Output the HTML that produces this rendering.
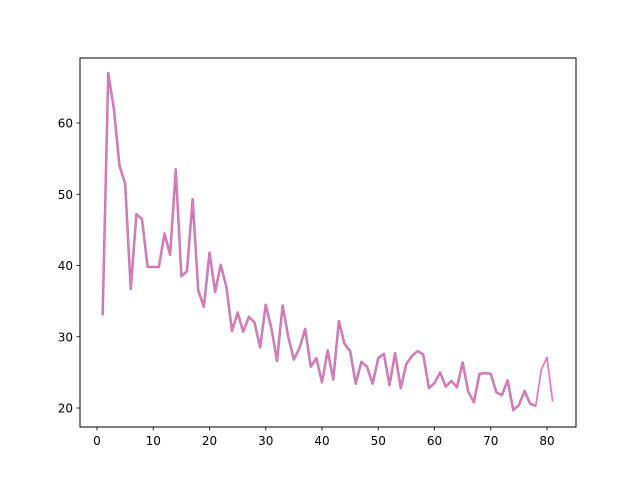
<!DOCTYPE html>
<html><head><meta charset="utf-8"><style>body{margin:0;background:#fff}svg{display:block;font-family:"DejaVu Sans","Liberation Sans",sans-serif}</style></head>
<body>
<svg id="chart" width="640" height="480"></svg>
<script>
const xs = [];
for (let i = 1; i <= 81; i++) xs.push(i);
const pinkValues = [33,67,62,54,51.5,36.7,47.2,46.5,39.8,39.8,39.8,44.5,41.5,53.5,38.5,39.2,49.3,36.5,34.2,41.8,36.3,40.1,37,30.8,33.4,30.7,32.8,32,28.5,34.5,31.2,26.6,34.4,30,26.8,28.4,31.1,25.8,27,23.6,28.1,24,32.2,29,28,23.4,26.5,25.8,23.4,27,27.6,23.2,27.7,22.8,26.2,27.3,28,27.5,22.8,23.5,25,23,23.8,22.9,26.4,22.3,20.8,24.8,24.9,24.8,22.2,21.8,23.9,19.7,20.4,22.4,20.6,20.3,25.4,27.1,20.9];
const grayCount = 78;
const xTicks = [0,10,20,30,40,50,60,70,80];
const yTicks = [20,30,40,50,60];
const NS = "http://www.w3.org/2000/svg";
const svg = document.getElementById('chart');
const L=80,R=576,T=58,B=427;
const sx = v => 97 + (v-0)*(547-97)/80;
const sy = v => 408 - (v-20)*(408-123)/40;
function mk(tag, attrs){const e=document.createElementNS(NS,tag);for(const k in attrs)e.setAttribute(k,attrs[k]);svg.appendChild(e);return e;}
function line(vals, n, color, w){
  let d='';
  for(let i=0;i<n;i++){d+=(i?'L':'M')+sx(xs[i]).toFixed(2)+','+sy(vals[i]).toFixed(2);}
  return mk('path',{d:d,fill:'none',stroke:color,'stroke-width':w,'stroke-linejoin':'round'});
}
const g = line(pinkValues, grayCount, '#9a6a8c', 2.4);


const p = line(pinkValues, pinkValues.length, '#e377c2', 1.7);


const frame = mk('rect',{x:L,y:T,width:R-L,height:B-T,fill:'none',stroke:'#000','stroke-width':1});


xTicks.forEach(t=>{
  const x=sx(t);
  const tk = mk('line',{x1:x,x2:x,y1:B,y2:B+3.5,stroke:'#000','stroke-width':0.8});
  
  
  const tx = mk('text',{x:x,y:B+18,'font-size':12,'text-anchor':'middle',fill:'#000'});
  tx.textContent=t;
  
  
});
yTicks.forEach(t=>{
  const y=sy(t);
  const tk = mk('line',{x1:L-3.5,x2:L,y1:y,y2:y,stroke:'#000','stroke-width':0.8});
  
  
  const tx = mk('text',{x:L-7,y:y+4.5,'font-size':12,'text-anchor':'end',fill:'#000'});
  tx.textContent=t;
  
  
});
</script>
</body></html>
